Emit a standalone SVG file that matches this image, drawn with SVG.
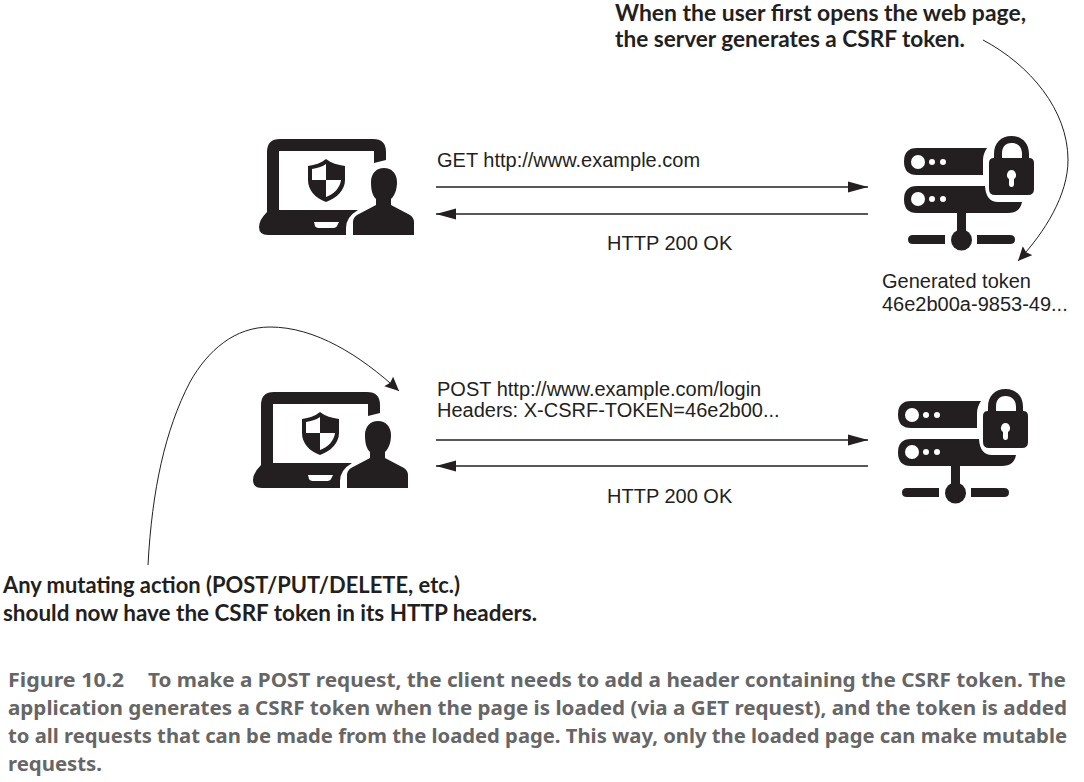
<svg xmlns="http://www.w3.org/2000/svg" width="1084" height="782" viewBox="0 0 1084 782">
<style>
.lab{font-family:"Liberation Sans",Arial,sans-serif;font-size:20px;fill:#231f20}
.note{font-family:Lato,"Open Sans",sans-serif;font-weight:700;font-size:23px;fill:#231f20}
.cap{font-family:"Noto Sans",sans-serif;font-weight:700;font-size:20.3px;fill:#666}
.ln{fill:none;stroke:#231f20;stroke-width:1.3}
.thin{fill:none;stroke:#231f20;stroke-width:1}
.ic{fill:#231f20}
.w{fill:#fff}
</style>
<defs>
<marker id="ah" markerUnits="userSpaceOnUse" markerWidth="21" markerHeight="12" refX="20" refY="6" orient="auto"><path d="M0 .5L20 6L0 11.5Z" fill="#231f20"/></marker>
<marker id="ca" markerUnits="userSpaceOnUse" markerWidth="16" markerHeight="14" refX="14" refY="6.500" orient="auto"><path d="M0 0L14 6.500L0 13L2 6.500Z" fill="#231f20"/></marker>
<g id="laptop">
<path class="ic" d="M267 152Q267 139 280 139H373Q386 139 386 152V160L374 163V151H279V210H358Q346 217 346 228V235H268Q259 235 259 227Q259 220 267 212Z"/>
<path class="w" d="M314 222H339L337 226Q336 228 332 228H320Q316 228 315 226Z"/>
<path class="ic" d="M384 168C392 168 397 174 397 182C397 189 395 195 391 199V205L410 215Q414 218 414 222V235H353V222Q353 218 357 215L376 205V199C372 195 371 189 371 182C371 174 376 168 384 168Z"/>
<path class="ic" d="M326 159C331 163 338 165 345 166V180C345 190 337 198 326 202C315 198 308 190 308 180V166C315 165 321 163 326 159Z"/>
<path class="w" d="M326 164V180H312V169C317 168 322 167 326 164ZM326 180H341C340 188 334 194 326 197Z"/>
</g>
<g id="server">
<path class="ic" d="M917 148H987Q983 154 983 160V175H917Q904 175 904 161.500Q904 148 917 148Z"/>
<path class="ic" d="M917 186H985Q986 202 998 202H1022Q1020 213 1008 213H917Q904 213 904 199.500Q904 186 917 186Z"/>
<circle class="w" cx="918" cy="162" r="7"/><circle class="w" cx="932" cy="162" r="3"/><circle class="w" cx="943" cy="162" r="3"/>
<circle class="w" cx="918" cy="199" r="7"/><circle class="w" cx="932" cy="199" r="3"/><circle class="w" cx="943" cy="199" r="3"/>
<path class="ic" d="M957 212H966V232H957Z"/>
<circle class="ic" cx="961.500" cy="240" r="10.500"/>
<path class="ic" d="M913 235H945V244H913Q908 244 908 239.500Q908 235 913 235ZM977 235H1010Q1015 235 1015 239.500Q1015 244 1010 244H977Z"/>
<path class="ic" fill-rule="evenodd" d="M994 158V154C994 143 1001 136 1011.500 136C1022 136 1029 143 1029 154V158H1029Q1034 158 1034 163V189Q1034 195 1028 195H995Q989 195 989 189V163Q989 158 994 158ZM1002 158H1022V154C1022 147 1018 143 1011.500 143C1005 143 1002 147 1002 154Z"/>
<path class="w" d="M1011.500 170A5 5 0 0 1 1014 179L1014 184Q1014 187 1011.500 187Q1009 187 1009 184L1009 179A5 5 0 0 1 1011.500 170Z"/>
</g>
</defs>
<g id="connectors">
<path class="ln" marker-end="url(#ah)" d="M436 187H868"/>
<path class="ln" marker-end="url(#ah)" d="M868 214H436"/>
<path class="ln" marker-end="url(#ah)" d="M436 440H868"/>
<path class="ln" marker-end="url(#ah)" d="M868 466H436"/>
<path class="thin" marker-end="url(#ca)" d="M983 40C1030 65 1068 110 1068 160C1068 195 1045 232 1018 261"/>
<path class="thin" marker-end="url(#ca)" d="M148 565C152 490 165 430 190 382C208 350 235 327 270 327C315 327 360 355 399 391"/>
</g>
<g id="client-1"><use href="#laptop"/></g>
<g id="server-1"><use href="#server"/></g>
<g id="client-2"><use href="#laptop" x="-6" y="253"/></g>
<g id="server-2"><use href="#server" x="-6" y="253"/></g>
<g id="labels">
<text class="lab" x="437" y="167">GET http://www.example.com</text>
<text class="lab" x="607" y="250">HTTP 200 OK</text>
<text class="lab" x="882" y="288">Generated token</text>
<text class="lab" x="882" y="311">46e2b00a-9853-49...</text>
<text class="lab" x="437" y="396">POST http://www.example.com/login</text>
<text class="lab" x="437" y="417">Headers: X-CSRF-TOKEN=46e2b00...</text>
<text class="lab" x="607" y="503">HTTP 200 OK</text>
</g>
<g id="notes">
<text class="note" x="615" y="21" textLength="411" lengthAdjust="spacingAndGlyphs">When the user first opens the web page,</text>
<text class="note" x="615" y="47" textLength="350" lengthAdjust="spacingAndGlyphs">the server generates a CSRF token.</text>
<text class="note" x="3" y="593" textLength="457" lengthAdjust="spacingAndGlyphs">Any mutating action (POST/PUT/DELETE, etc.)</text>
<text class="note" x="3" y="621" textLength="534" lengthAdjust="spacingAndGlyphs">should now have the CSRF token in its HTTP headers.</text>
</g>
<g id="caption">
<text class="cap" x="8" y="687" textLength="116" lengthAdjust="spacingAndGlyphs">Figure 10.2</text>
<text class="cap" x="148" y="687" textLength="918" lengthAdjust="spacingAndGlyphs">To make a POST request, the client needs to add a header containing the CSRF token. The</text>
<text class="cap" x="8" y="715" textLength="1059" lengthAdjust="spacingAndGlyphs">application generates a CSRF token when the page is loaded (via a GET request), and the token is added</text>
<text class="cap" x="8" y="743" textLength="1059" lengthAdjust="spacingAndGlyphs">to all requests that can be made from the loaded page. This way, only the loaded page can make mutable</text>
<text class="cap" x="8" y="771" textLength="94" lengthAdjust="spacingAndGlyphs">requests.</text>
</g>
</svg>
